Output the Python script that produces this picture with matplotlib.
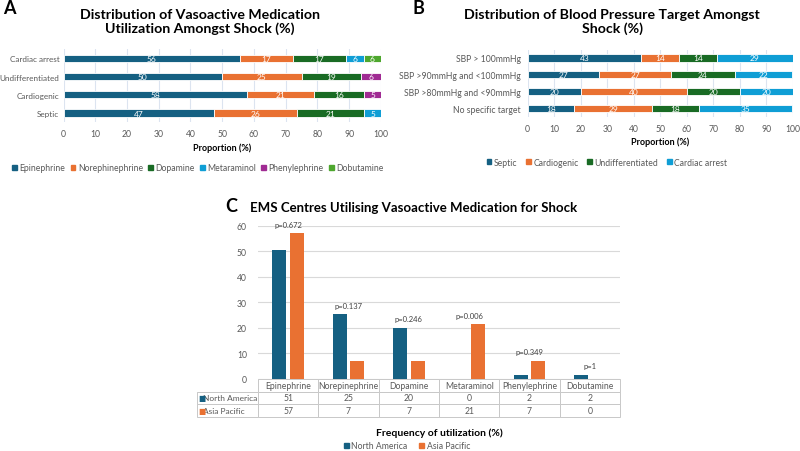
import matplotlib
matplotlib.use('Agg')
import matplotlib.pyplot as plt
from matplotlib.patches import Patch

plt.rcParams['font.family'] = ['Lato', 'DejaVu Sans']

GRAY = '#595959'
BLUE = '#156082'
ORANGE = '#E97132'
DGREEN = '#196B24'
LBLUE = '#0F9ED5'
PURPLE = '#A02B93'
LGREEN = '#4EA72E'

# panel A: vasoactive medication by shock type (%)
shock_types = ['Septic', 'Cardiogenic', 'Undifferentiated', 'Cardiac arrest']
meds = ['Epinephrine', 'Norephinephrine', 'Dopamine', 'Metaraminol', 'Phenylephrine', 'Dobutamine']
epinephrine = [47.4, 57.9, 50.0, 55.6]
norepinephrine = [26.3, 21.1, 25.0, 16.7]
dopamine = [21.1, 15.8, 18.75, 16.7]
metaraminol = [5.3, 0, 0, 5.6]
phenylephrine = [0, 5.3, 6.25, 0]
dobutamine = [0, 0, 0, 5.6]

# panel B: blood pressure target by shock type (%)
targets = ['No specific target', 'SBP >80mmHg and <90mmHg', 'SBP >90mmHg and <100mmHg', 'SBP > 100mmHg']
bp_shock = ['Septic', 'Cardiogenic', 'Undifferentiated', 'Cardiac arrest']
bp_septic = [17.6, 20.0, 27.0, 42.9]
bp_cardiogenic = [29.4, 40.0, 27.0, 14.3]
bp_undiff = [17.6, 20.0, 24.3, 14.3]
bp_arrest = [35.3, 20.0, 21.6, 28.6]

# panel C: EMS centres utilising medication (%)
drugs = ['Epinephrine', 'Norepinephrine', 'Dopamine', 'Metaraminol', 'Phenylephrine', 'Dobutamine']
north_america = [50.6, 25.3, 20.1, 0, 1.6, 1.6]
asia_pacific = [57.1, 7.1, 7.1, 21.4, 7.1, 0]
p_values = ['p=0.672', 'p=0.137', 'p=0.246', 'p=0.006', 'p=0.349', 'p=1']

fig = plt.figure(figsize=(8, 4.52), dpi=100)
W, H = 800, 452


def box(x0, y0, x1, y1):
    return [x0 / W, 1 - y1 / H, (x1 - x0) / W, (y1 - y0) / H]


def stacked(ax, cats, series, colors, height):
    left = [0] * len(cats)
    for vals, c in zip(series, colors):
        bars = ax.barh(cats, vals, left=left, height=height, color=c,
                       edgecolor='white', linewidth=0.6, zorder=3)
        labels = ['%.0f' % v if v > 0 else '' for v in vals]
        ax.bar_label(bars, labels=labels, label_type='center', color='white', fontsize=6)
        left = [l + v for l, v in zip(left, vals)]
    ax.set_xlim(0, 100)
    ax.set_xticks(range(0, 101, 10))
    ax.grid(axis='x', color='#DCE4F0', linewidth=0.8, zorder=0)
    for s in ax.spines.values():
        s.set_visible(False)
    ax.tick_params(length=0, colors=GRAY, labelsize=6.2)
    ax.tick_params(axis='x', pad=5)
    ax.tick_params(axis='y', pad=5)
    ax.set_xlabel('Proportion (%)', fontsize=6.5, fontweight='bold', labelpad=3)


# ---- A
axA = fig.add_axes(box(63.5, 50.2, 381, 123.2))
stacked(axA, shock_types,
        [epinephrine, norepinephrine, dopamine, metaraminol, phenylephrine, dobutamine],
        [BLUE, ORANGE, DGREEN, LBLUE, PURPLE, LGREEN], 0.4)
axA.set_ylim(-0.5, 3.5)
axA.tick_params(axis='y', labelsize=5.9, pad=3)
fig.text(200 / W, 1 - 22 / H, 'Distribution of Vasoactive Medication\nUtilization Amongst Shock (%)',
         ha='center', va='center', fontsize=10.2, fontweight='bold', linespacing=1.2)
fig.text(3 / W, 1 - 8 / H, 'A', ha='left', va='center', fontsize=13, fontweight='bold')
fig.legend(handles=[Patch(color=c) for c in [BLUE, ORANGE, DGREEN, LBLUE, PURPLE, LGREEN]],
           labels=meds, loc='center', bbox_to_anchor=(198 / W, 1 - 169 / H), ncol=6,
           frameon=False, fontsize=6.2, handlelength=0.55, handleheight=0.55,
           handletextpad=0.3, columnspacing=0.6, labelcolor=GRAY)

# ---- B
axB = fig.add_axes(box(527.7, 50.6, 792.7, 117.7))
stacked(axB, targets, [bp_septic, bp_cardiogenic, bp_undiff, bp_arrest],
        [BLUE, ORANGE, DGREEN, LBLUE], 0.42)
axB.set_ylim(-0.5, 3.5)
fig.text(612 / W, 1 - 22 / H, 'Distribution of Blood Pressure Target Amongst\nShock (%)',
         ha='center', va='center', fontsize=10.2, fontweight='bold', linespacing=1.2)
fig.text(413 / W, 1 - 8 / H, 'B', ha='left', va='center', fontsize=13, fontweight='bold')
fig.legend(handles=[Patch(color=c) for c in [BLUE, ORANGE, DGREEN, LBLUE]],
           labels=bp_shock, loc='center', bbox_to_anchor=(607 / W, 1 - 163 / H), ncol=4,
           frameon=False, fontsize=6.2, handlelength=0.55, handleheight=0.55,
           handletextpad=0.3, columnspacing=1.0, labelcolor=GRAY)

# ---- C
axC = fig.add_axes(box(258, 226.7, 620, 380))
x = list(range(len(drugs)))
bw = 0.23
axC.bar([i - 0.145 for i in x], north_america, width=bw, color=BLUE, zorder=3)
axC.bar([i + 0.145 for i in x], asia_pacific, width=bw, color=ORANGE, zorder=3)
for i, p in enumerate(p_values):
    top = max(north_america[i], asia_pacific[i])
    axC.annotate(p, (i, top), xytext=(0, 4), textcoords='offset points',
                 ha='center', va='bottom', fontsize=5.5, color='#404040')
axC.set_xlim(-0.5, len(drugs) - 0.5)
axC.set_ylim(0, 60)
axC.set_yticks(range(0, 61, 10))
axC.set_xticks([])
axC.grid(axis='y', color='#D9D9D9', linewidth=0.8, zorder=0)
for s in axC.spines.values():
    s.set_visible(False)
axC.tick_params(length=0, colors=GRAY, labelsize=6.2, pad=8)

lab_w = 61 / 362
tbl_h = 38 / 153.3
cell_text = [['North America'] + ['%.0f' % v for v in north_america],
             ['Asia Pacific'] + ['%.0f' % v for v in asia_pacific]]
tbl = axC.table(cellText=cell_text, colLabels=[''] + drugs,
                colWidths=[lab_w] + [1 / 6] * 6,
                bbox=[-lab_w, -tbl_h, 1 + lab_w, tbl_h], cellLoc='center')
tbl.auto_set_font_size(False)
for (r, c), cell in tbl.get_celld().items():
    cell.set_edgecolor('#C8C8C8')
    cell.set_linewidth(0.7)
    cell.get_text().set_fontsize(6.2)
    cell.get_text().set_color(GRAY)
    if c == 0:
        cell._loc = 'left'
        cell.get_text().set_ha('left')
        cell.get_text().set_fontsize(6.0)
        cell.PAD = 0.1
tbl[0, 0].visible_edges = 'BR'
for r, c in [(1, BLUE), (2, ORANGE)]:
    axC.text(-lab_w + 0.005, -tbl_h * (r + 0.5) / 3, '■', color=c, fontsize=5.5,
             ha='left', va='center', transform=axC.transAxes)

fig.text(439 / W, 1 - 433 / H, 'Frequency of utilization (%)', ha='center', va='center',
         fontsize=7.5, fontweight='bold')
fig.text(414 / W, 1 - 208 / H, 'EMS Centres Utilising Vasoactive Medication for Shock',
         ha='center', va='center', fontsize=9.5, fontweight='bold')
fig.text(225 / W, 1 - 207 / H, 'C', ha='left', va='center', fontsize=13, fontweight='bold')
fig.legend(handles=[Patch(color=BLUE), Patch(color=ORANGE)], labels=['North America', 'Asia Pacific'],
           loc='center', bbox_to_anchor=(407 / W, 1 - 447 / H), ncol=2, frameon=False,
           fontsize=6.2, handlelength=0.55, handleheight=0.55, handletextpad=0.3,
           columnspacing=1.4, labelcolor=GRAY)

fig.savefig('out.png', dpi=100, facecolor='white')
